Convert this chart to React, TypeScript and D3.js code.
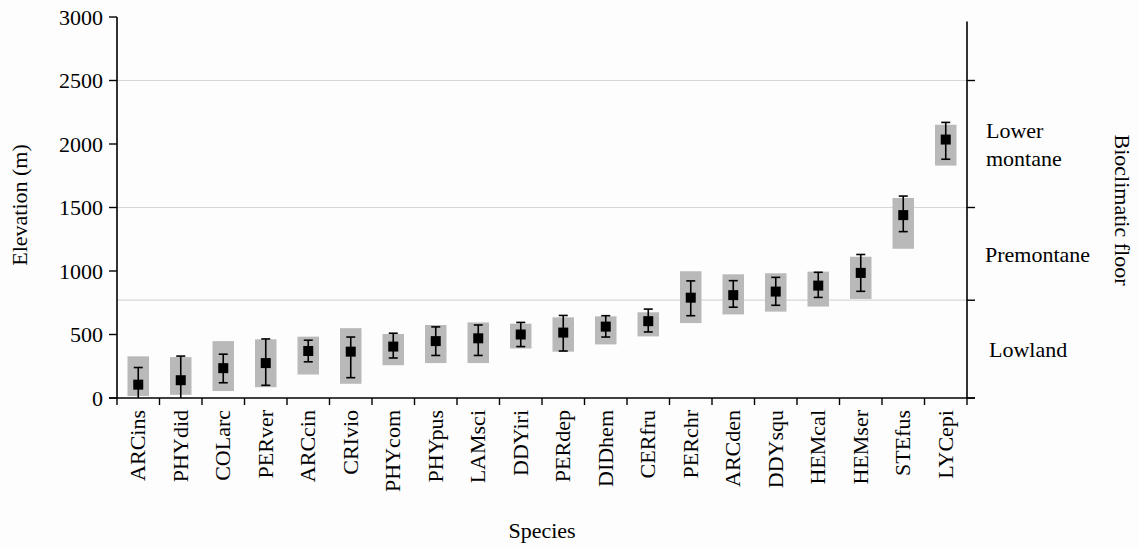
import React from "react";
import * as d3 from "d3";

const species = ["ARCins","PHYdid","COLarc","PERver","ARCcin","CRIvio","PHYcom","PHYpus","LAMsci","DDYiri","PERdep","DIDhem","CERfru","PERchr","ARCden","DDYsqu","HEMcal","HEMser","STEfus","LYCepi"];
const meanElev = [105,140,235,275,370,365,405,448,470,500,515,562,605,790,810,838,885,985,1440,2035];
const errLow = [0,0,120,100,285,160,315,335,335,405,370,480,520,648,715,730,792,840,1310,1880];
const errHigh = [240,330,345,465,455,480,510,560,575,595,650,648,700,922,924,950,990,1130,1590,2170];
const rangeLow = [15,25,55,85,185,112,258,275,275,390,365,422,485,590,658,680,720,780,1175,1830];
const rangeHigh = [328,322,448,462,483,550,504,575,595,585,635,643,675,998,974,982,995,1112,1575,2152];
const yTicks = [0,500,1000,1500,2000,2500,3000];
const gridLines = [770,1500,2500];
const floorTicks = [0,770,1500,2500];
const rightAxisTop = 2965;
const floorLabels = [
  { lines: ["Lower","montane"], value: 2000, dx: 19 },
  { lines: ["Premontane"], value: 1135, dx: 18 },
  { lines: ["Lowland"], value: 385, dx: 22 },
];

const W = 1139, H = 548;
const left = 117, right = 967, top = 17, bottom = 398;
const font = "'Liberation Serif', 'Times New Roman', serif";

export default function App() {
  const x = d3.scaleBand<string>().domain(species).range([left, right]).paddingInner(0).paddingOuter(0);
  const y = d3.scaleLinear().domain([0, 3000]).range([bottom, top]);
  const bw = x.bandwidth();
  const rectW = 21.5;
  const sq = 10;
  const cap = 9;
  const bounds = d3.range(species.length + 1).map((i) => left + i * bw);

  return (
    <div style={{ position: "absolute", left: 0, top: 0 }}>
      <svg width={W} height={H} style={{ display: "block", background: "#fdfdfd" }} fontFamily={font}>
        {gridLines.map((g) => (
          <line key={g} x1={left} x2={right} y1={y(g)} y2={y(g)} stroke="#d6d6d6" strokeWidth={1.2} />
        ))}
        {species.map((s, i) => {
          const cx = (x(s) as number) + bw / 2;
          return (
            <g key={s}>
              <rect x={cx - rectW / 2} y={y(rangeHigh[i])} width={rectW} height={y(rangeLow[i]) - y(rangeHigh[i])} fill="#b9b9b9" />
              <line x1={cx} x2={cx} y1={y(errHigh[i])} y2={y(errLow[i])} stroke="#000" strokeWidth={1.6} />
              <line x1={cx - cap / 2} x2={cx + cap / 2} y1={y(errHigh[i])} y2={y(errHigh[i])} stroke="#000" strokeWidth={1.6} />
              {errLow[i] > 0 && (
                <line x1={cx - cap / 2} x2={cx + cap / 2} y1={y(errLow[i])} y2={y(errLow[i])} stroke="#000" strokeWidth={1.6} />
              )}
              <rect x={cx - sq / 2} y={y(meanElev[i]) - sq / 2} width={sq} height={sq} fill="#000" />
            </g>
          );
        })}
        {/* left axis */}
        <line x1={left} x2={left} y1={y(3000)} y2={bottom} stroke="#000" strokeWidth={1.6} />
        {yTicks.map((t) => (
          <g key={t}>
            <line x1={left - 8} x2={left} y1={y(t)} y2={y(t)} stroke="#000" strokeWidth={1.4} />
            <text x={left - 14} y={y(t)} dy="0.35em" textAnchor="end" fontSize={22} fill="#000">{t}</text>
          </g>
        ))}
        {/* bottom axis */}
        <line x1={left - 8} x2={right + 8} y1={bottom} y2={bottom} stroke="#000" strokeWidth={1.6} />
        {bounds.map((b, i) => (
          <line key={i} x1={b} x2={b} y1={bottom} y2={bottom + 7} stroke="#000" strokeWidth={1.4} />
        ))}
        {species.map((s) => {
          const cx = (x(s) as number) + bw / 2;
          return (
            <text key={s} transform={`translate(${cx + 7},${bottom + 12}) rotate(-90)`} textAnchor="end" fontSize={22} fill="#000">{s}</text>
          );
        })}
        {/* right axis */}
        <line x1={right} x2={right} y1={y(rightAxisTop)} y2={bottom} stroke="#000" strokeWidth={1.6} />
        {floorTicks.map((t) => (
          <line key={t} x1={right} x2={right + 8} y1={y(t)} y2={y(t)} stroke="#000" strokeWidth={1.4} />
        ))}
        {floorLabels.map((f) => (
          <text key={f.lines[0]} x={right + f.dx} y={y(f.value)} fontSize={22} fill="#000">
            {f.lines.map((l, j) => (
              <tspan key={l} x={right + f.dx} dy={j === 0 ? (f.lines.length > 1 ? "-0.28em" : "0.35em") : "1.27em"}>{l}</tspan>
            ))}
          </text>
        ))}
        <text transform={`translate(1115,210) rotate(90)`} textAnchor="middle" fontSize={22} fill="#000">Bioclimatic floor</text>
        <text transform={`translate(27,205) rotate(-90)`} textAnchor="middle" fontSize={22} fill="#000">Elevation (m)</text>
        <text x={(left + right) / 2} y={538} textAnchor="middle" fontSize={22} fill="#000">Species</text>
      </svg>
    </div>
  );
}
